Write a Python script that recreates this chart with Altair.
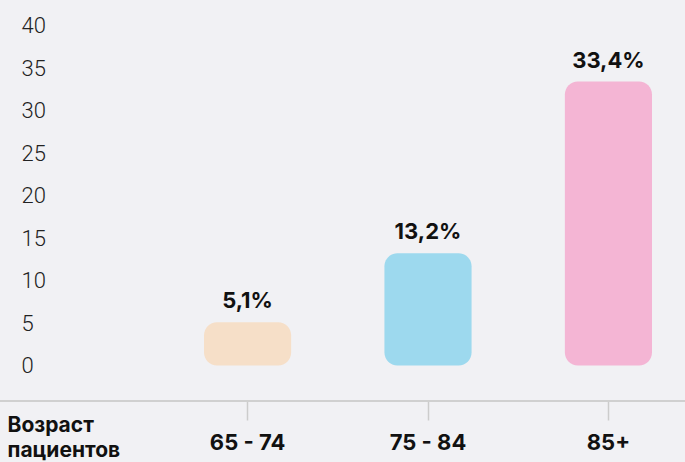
import altair as alt
import pandas as pd

categories = ["65 - 74", "75 - 84", "85+"]
values = [5.1, 13.2, 33.4]
value_labels = ["5,1%", "13,2%", "33,4%"]
bar_colors = ["#f6dfc8", "#9dd9ee", "#f4b5d4"]
y_ticks = [0, 5, 10, 15, 20, 25, 30, 35, 40]
axis_title = ["Возраст", "пациентов"]

df = pd.DataFrame({"age": categories, "value": values, "label": value_labels})

FONT = "Roboto"
BOLD_FONT = "Inter"

x_enc = alt.X(
    "age:N",
    sort=categories,
    scale=alt.Scale(type="band", range=[204, 652], paddingInner=0.517, paddingOuter=0),
    axis=alt.Axis(
        title=axis_title,
        titleFont=BOLD_FONT,
        titleFontSize=21,
        titleFontWeight="bold",
        titleColor="#111111",
        titleAngle=0,
        titleAlign="left",
        titleBaseline="alphabetic",
        titleX=7,
        titleY=30,
        titleLineHeight=25,
        labelFont=BOLD_FONT,
        labelFontSize=22,
        labelFontWeight="bold",
        labelColor="#111111",
        labelPadding=12,
        labelAngle=0,
        tickSize=19,
        tickColor="#cccccc",
        tickWidth=1.5,
        domain=False,
        grid=False,
    ),
)

y_scale = alt.Scale(domain=[-4.176, 43], nice=False, zero=False)

bars = alt.Chart(df).mark_bar(cornerRadius=13).encode(
    x=x_enc,
    y=alt.Y(
        "value:Q",
        scale=y_scale,
        axis=alt.Axis(
            title=None,
            values=y_ticks,
            orient="left",
            offset=-21,
            ticks=False,
            tickSize=0,
            labelPadding=0,
            labelAlign="left",
            labelBaseline="middle",
            labelFont=FONT,
            labelFontSize=22,
            labelFontWeight=300,
            labelColor="#222222",
            domain=False,
            grid=False,
        ),
    ),
    y2=alt.datum(0),
    color=alt.Color("age:N", scale=alt.Scale(domain=categories, range=bar_colors), legend=None),
)

baseline_rule = alt.Chart(df).mark_rule(color="#d0d0d0", strokeWidth=2).encode(
    x=alt.value(0), x2=alt.value(685), y=alt.value(401)
)

text = alt.Chart(df).mark_text(
    baseline="alphabetic",
    dy=-14,
    font=BOLD_FONT,
    fontSize=22,
    fontWeight="bold",
    color="#111111",
).encode(
    x=alt.X("age:N", sort=categories),
    y=alt.Y("value:Q"),
    text="label:N",
)

chart = (
    alt.layer(bars, baseline_rule, text)
    .properties(
        width=685,
        height=401,
        background="#f1f1f4",
        padding={"left": 0, "top": 0, "right": 0, "bottom": 61},
        autosize="none",
    )
    .configure_view(stroke=None)
)

chart.save("out.html", embed_options={"renderer": "svg", "actions": False})
